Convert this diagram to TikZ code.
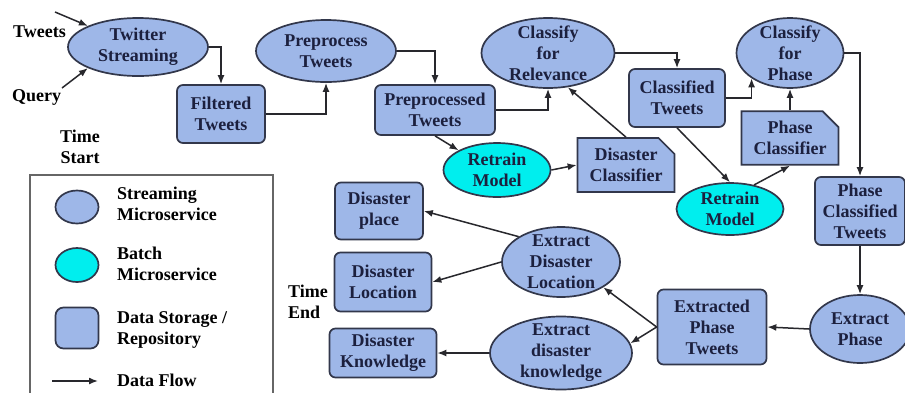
\documentclass[tikz,border=0pt]{standalone}
\usepackage{fontspec}
\setmainfont{Liberation Serif}
\usetikzlibrary{shapes.geometric,shapes.misc,arrows.meta,calc}
\definecolor{svcblue}{RGB}{158,183,232}
\definecolor{batchcyan}{RGB}{0,238,238}
\definecolor{edgegray}{RGB}{50,55,75}
\definecolor{ink}{RGB}{28,32,62}
\definecolor{wire}{RGB}{40,40,45}
\begin{document}
\begin{tikzpicture}[x=1pt,y=-1pt,
  every node/.style={font=\bfseries\fontsize{18}{21}\selectfont},
  txt/.style={align=center, text=ink, inner sep=0pt},
  svc/.style={ellipse, draw=edgegray, line width=1.7pt, fill=svcblue, inner sep=0pt},
  batch/.style={svc, fill=batchcyan},
  store/.style={rectangle, rounded corners=6pt, draw=edgegray, line width=1.7pt,
    fill=svcblue, align=center, text=ink, inner sep=2pt},
  model/.style={chamfered rectangle, chamfered rectangle corners=north east,
    chamfered rectangle xsep=8pt, chamfered rectangle ysep=8pt,
    draw=edgegray, line width=1.7pt, fill=svcblue, align=center, text=ink, inner sep=2pt},
  flow/.style={draw=wire, line width=1.5pt, -{Latex[length=9pt,width=7pt]}},
  plain/.style={text=black, align=center, inner sep=0pt}]

\useasboundingbox (0,0) rectangle (905,392);
\fill[white] (0,0) rectangle (905,392);

% ---- pipeline: streaming and preprocessing ----
\node[svc, minimum width=140pt, minimum height=58pt,
  label={[txt]center:{Twitter\\Streaming}}] (ts) at (138,47) {};
\node[store, minimum width=88pt, minimum height=58pt] (ft) at (221,114) {Filtered\\Tweets};
\node[svc, minimum width=140pt, minimum height=62pt,
  label={[txt]center:{Preprocess\\Tweets}}] (pp) at (326,51) {};
\node[store, minimum width=120pt, minimum height=50pt] (pt) at (435,110) {Preprocessed\\Tweets};

% ---- relevance classification ----
\node[svc, minimum width=133pt, minimum height=70pt,
  label={[txt]center:{Classify\\for\\Relevance}}] (cr) at (548,53) {};
\node[batch, minimum width=107pt, minimum height=54pt,
  label={[txt]center:{Retrain\\Model}}] (rm1) at (497,170) {};
\node[model, minimum width=97pt, minimum height=54pt] (dc) at (626,165) {Disaster\\Classifier};
\node[store, minimum width=96pt, minimum height=58pt] (ct) at (677,98) {Classified\\Tweets};

% ---- phase classification ----
\node[svc, minimum width=107pt, minimum height=70pt,
  label={[txt]center:{Classify\\for\\Phase}}] (cp) at (790,53) {};
\node[model, minimum width=97pt, minimum height=50pt] (pc) at (790,138) {Phase\\Classifier};
\node[batch, minimum width=107pt, minimum height=52pt,
  label={[txt]center:{Retrain\\Model}}] (rm2) at (730,209) {};
\node[store, minimum width=90pt, minimum height=68pt] (pct) at (860,211) {Phase\\Classified\\Tweets};

% ---- extraction ----
\node[svc, minimum width=100pt, minimum height=68pt,
  label={[txt]center:{Extract\\Phase}}] (ep) at (860,329) {};
\node[store, minimum width=109pt, minimum height=75pt] (ept) at (712,327) {Extracted\\Phase\\Tweets};
\node[svc, minimum width=118pt, minimum height=70pt,
  label={[txt]center:{Extract\\Disaster\\Location}}] (edl) at (561,262) {};
\node[svc, minimum width=142pt, minimum height=73pt,
  label={[txt]center:{Extract\\disaster\\knowledge}}] (edk) at (561,353) {};
\node[store, minimum width=88pt, minimum height=57pt] (dp) at (379,211) {Disaster\\place};
\node[store, minimum width=97pt, minimum height=59pt] (dl) at (383,282) {Disaster\\Location};
\node[store, minimum width=107pt, minimum height=49pt] (dk) at (383,353) {Disaster\\Knowledge};

% ---- inputs and time markers ----
\node[plain, anchor=west] (ltw) at (13,32) {Tweets};
\node[plain, anchor=west] (lqu) at (12,97) {Query};
\node[plain] (tstart) at (80,147) {Time\\Start};
\node[plain, anchor=west, align=left] (tend) at (288,302) {Time\\End};
\coordinate (tw0) at (55,12);
\coordinate (qu0) at (62,88);

% ---- data flow ----
\draw[flow] (tw0) -- (ts.north west);
\draw[flow] (qu0) -- (ts.south west);
\draw[flow] (ts.east) -| (ft.north);
\draw[flow] (ft.east) -| (pp.south);
\draw[flow] (pp.east) -| (pt.north);
\draw[flow] (pt.east) -| (cr.south);
\draw[flow] (pt.south) -- (rm1.north west);
\draw[flow] (rm1.east) -- (dc.west);
\draw[flow] (dc.north) -- (cr.-60);
\draw[flow] (cr.east) -| (ct.north);
\draw[flow] (ct.east) -| (cp.south west);
\draw[flow] (ct.south) -- (rm2.north);
\draw[flow] (rm2.45) -- (pc.south);
\draw[flow] (pc.north) -- (cp.south);
\draw[flow] (cp.east) -| (pct.north);
\draw[flow] (pct.south) -- (ep.north);
\draw[flow] (ep.west) -- (ept.east);
\draw[flow] (ept.west) -- (edl.south east);
\draw[flow] (ept.west) -- (edk.8);
\draw[flow] (edl.north west) -- (dp.east);
\draw[flow] (edl.west) -- (dl.east);
\draw[flow] (edk.west) -- (dk.east);

% ---- legend ----
\draw[draw=gray!80!black, line width=1.4pt] (30,175) rectangle (273,398);
\node[svc, minimum width=43pt, minimum height=33pt] (lg1) at (77,207) {};
\node[batch, minimum width=43pt, minimum height=34pt] (lg2) at (77,265) {};
\node[store, minimum width=43pt, minimum height=41pt, rounded corners=8pt] (lg3) at (77,328) {};
\coordinate (lga0) at (52,381);
\coordinate (lga1) at (98,381);
\draw[flow] (lga0) -- (lga1);
\node[plain, anchor=west, align=left] (lt1) at (117,204) {Streaming\\Microservice};
\node[plain, anchor=west, align=left] (lt2) at (117,264) {Batch\\Microservice};
\node[plain, anchor=west, align=left] (lt3) at (117,330) {Data Storage /\\Repository};
\node[plain, anchor=west, align=left] (lt4) at (117,380) {Data Flow};
\end{tikzpicture}
\end{document}
